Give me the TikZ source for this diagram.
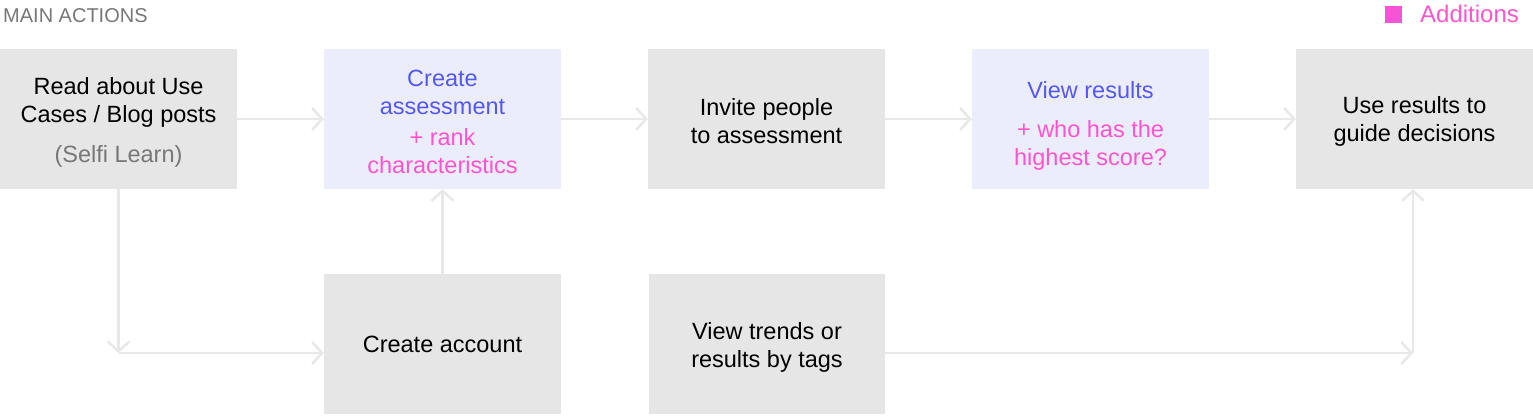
\documentclass[tikz,border=0pt]{standalone}
\usepackage{fontspec}
\setmainfont{Liberation Sans}
\usetikzlibrary{arrows.meta}
\definecolor{boxgray}{HTML}{E6E6E6}
\definecolor{boxlav}{HTML}{ECEDFC}
\definecolor{linegray}{HTML}{E8E8E8}
\definecolor{txtblue}{HTML}{5558EE}
\definecolor{txtpink}{HTML}{FF55CC}
\definecolor{legpink}{HTML}{F555D5}
\definecolor{txtgray}{HTML}{777777}
\tikzset{
  stepbox/.style={rectangle, minimum width=237pt, minimum height=140pt, inner sep=0pt, fill=boxgray},
  lavbox/.style={stepbox, fill=boxlav},
  steptext/.style={inner sep=0pt, align=center, font=\fontsize{23.5}{28}\selectfont},
  conn/.style={draw=linegray, line width=2.5pt, -{Straight Barb[length=10pt,width=22pt,line width=2.5pt]}}
}
\begin{document}
\begin{tikzpicture}[x=1pt,y=-1pt]
\useasboundingbox (0,0) rectangle (1533,415);
\node[anchor=base west, text=txtgray, font=\fontsize{20}{22}\selectfont, inner sep=0pt] (title) at (3,23) {MAIN ACTIONS};
\node[fill=legpink, minimum size=17pt, inner sep=0pt] (legsq) at (1393,14.5) {};
\node[anchor=base west, text=txtpink, font=\fontsize{24}{26}\selectfont, inner sep=0pt] (legtxt) at (1420,22.5) {Additions};

\node[stepbox] (b1) at (118.5,119) {};
\node[lavbox] (b2) at (442.5,119) {};
\node[stepbox] (b3) at (766.5,119) {};
\node[lavbox] (b4) at (1090.5,119) {};
\node[stepbox] (b5) at (1414.5,119) {};
\node[stepbox] (b6) at (442.5,344) {};
\node[stepbox, minimum width=236pt] (b7) at (767,344) {};

\node[steptext] (t1) at ([yshift=-3pt]b1.center) {Read about Use\\Cases / Blog posts\\[12pt]\textcolor{txtgray}{(Selfi Learn)}};
\node[steptext] (t2) at ([yshift=-3pt]b2.center) {\textcolor{txtblue}{Create}\\\textcolor{txtblue}{assessment}\\[3pt]\textcolor{txtpink}{+ rank}\\\textcolor{txtpink}{characteristics}};
\node[steptext] (t3) at ([yshift=-2pt]b3.center) {Invite people\\to assessment};
\node[steptext] (t4) at ([yshift=-7pt]b4.center) {\textcolor{txtblue}{View results}\\[11pt]\textcolor{txtpink}{+ who has the}\\\textcolor{txtpink}{highest score?}};
\node[steptext] (t5) at ([yshift=-2pt]b5.center) {Use results to\\guide decisions};
\node[steptext] (t6) at ([yshift=0pt]b6.center) {Create account};
\node[steptext] (t7) at ([yshift=-3pt]b7.center) {View trends or\\results by tags};

\coordinate (c1) at (118.5,353);
\coordinate (c2) at (1413,353);

\draw[conn] (b1.east) -- (b2.west);
\draw[conn] (b2.east) -- (b3.west);
\draw[conn] (b3.east) -- (b4.west);
\draw[conn] (b4.east) -- (b5.west);
\draw[conn] (b1.south) -- (c1);
\draw[conn] (c1) -- (c1 -| b6.west);
\draw[conn] (b6.north) -- (b2.south);
\draw[conn] (c2 -| b7.east) -- (c2);
\draw[conn] (c2) -- (c2 |- b5.south);
\end{tikzpicture}
\end{document}
